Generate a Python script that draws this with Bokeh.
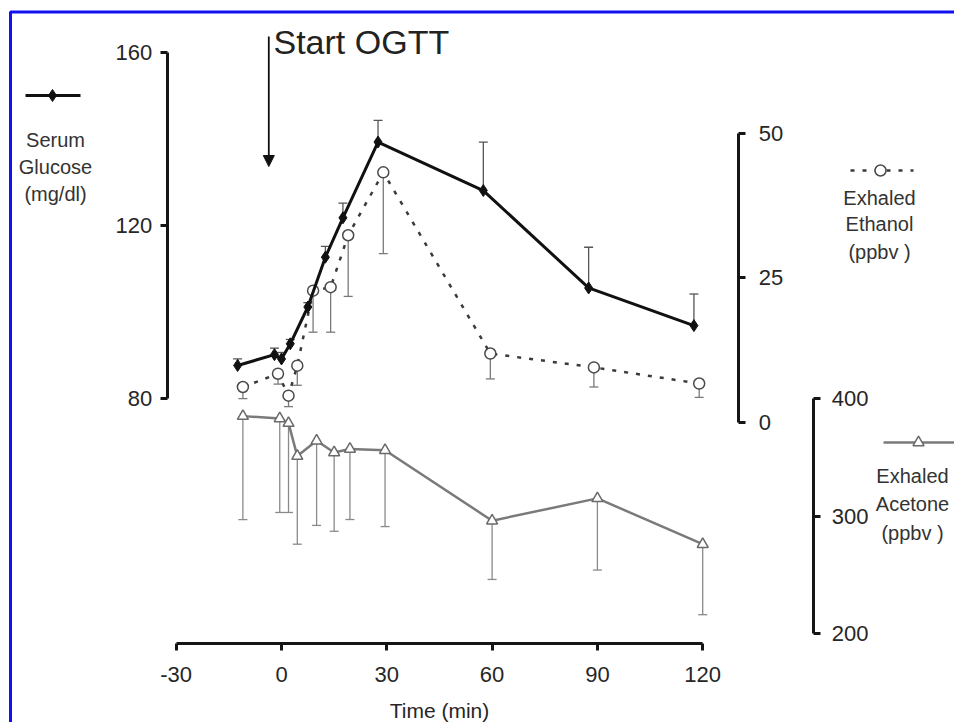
import numpy as np
from bokeh.plotting import figure
from bokeh.models import (LinearAxis, Range1d, FixedTicker, ColumnDataSource, Whisker,
                          TeeHead, Label, Arrow, NormalHead, BoxAnnotation)
from bokeh.embed import file_html
from bokeh.resources import INLINE

# ---------------- data ----------------
glucose_t = [-12.5, -2, 0, 2.5, 7.5, 12.5, 17.5, 27.5, 57.5, 87.5, 117.5]
glucose = [87.7, 90.2, 89.2, 92.7, 101.2, 112.7, 121.8, 139.3, 128.1, 105.6, 96.9]
glucose_err = [1.5, 1.5, 1.5, 1.0, 1.0, 2.5, 3.4, 5.0, 11.2, 9.4, 7.3]

ethanol_t = [-11, -1, 2, 4.5, 9, 14, 19, 29, 59.5, 89, 119]
ethanol = [6.1, 8.4, 4.6, 9.8, 22.8, 23.4, 32.4, 43.3, 11.9, 9.5, 6.7]
ethanol_err = [2.0, 1.8, 1.9, 3.4, 7.2, 7.8, 10.6, 14.1, 4.4, 3.4, 2.4]

acetone_t = [-11, -0.5, 2, 4.5, 10, 15, 19.5, 29.5, 60, 90, 120]
acetone = [385, 383, 379, 351, 364, 354, 357, 356, 296, 315, 276]
acetone_err = [88, 80, 76, 75, 72, 67, 60, 65, 50, 61, 60]

time_ticks = [-30, 0, 30, 60, 90, 120]
time_labels = ["-30", "0", "30", "60", "90", "120"]
glucose_ticks = [80, 120, 160]
ethanol_ticks = [0, 25, 50]
acetone_ticks = [200, 300, 400]

# ---------------- layout geometry (page pixels) ----------------
W, H = 954, 722
OX, OY = 0, 0
T0_PX, PX_PER_MIN = 281.0, 3.51
G80_PY, PX_PER_G = 398.3, 4.33
E0_PY, PX_PER_E = 421.7, 5.77
A200_PY, PX_PER_A = 633.0, 1.175


def tx(px):
    return (px - T0_PX) / PX_PER_MIN


def gy(py):
    return 80 + (G80_PY - py) / PX_PER_G


def ey(py):
    return (E0_PY - py) / PX_PER_E


def ay(py):
    return 200 + (A200_PY - py) / PX_PER_A


FONT = "Liberation Sans"

p = figure(width=W, height=H,
           x_range=Range1d(tx(OX), tx(OX + W)),
           y_range=Range1d(gy(OY + H), gy(OY)),
           x_axis_type=None, y_axis_type=None,
           min_border=0, toolbar_location=None, output_backend="svg",
           background_fill_color="white", border_fill_color="white")
p.outline_line_color = None
p.extra_y_ranges = {"eth": Range1d(ey(OY + H), ey(OY)),
                    "ace": Range1d(ay(OY + H), ay(OY))}


def style_axis(ax, standoff):
    ax.axis_line_width = 3
    ax.axis_line_color = "#151515"
    ax.major_tick_line_width = 3
    ax.major_tick_line_color = "#151515"
    ax.major_tick_in = 0
    ax.major_tick_out = 7
    ax.minor_tick_in = 0
    ax.minor_tick_out = 0
    ax.major_label_text_font = FONT
    ax.major_label_text_font_size = "22px"
    ax.major_label_text_color = "#262626"
    ax.major_label_standoff = standoff


# bottom time axis
xaxis = LinearAxis(fixed_location=gy(643), bounds=(time_ticks[0], time_ticks[-1]),
                   ticker=FixedTicker(ticks=time_ticks), axis_label="Time (min)")
style_axis(xaxis, 16)
xaxis.major_label_overrides = {t: lab for t, lab in zip(time_ticks, time_labels)}
xaxis.axis_label_text_font = FONT
xaxis.axis_label_text_font_size = "21px"
xaxis.axis_label_text_font_style = "normal"
xaxis.axis_label_text_color = "#262626"
xaxis.axis_label_standoff = 14
p.add_layout(xaxis, "below")

# glucose axis (left)
gaxis = LinearAxis(fixed_location=tx(166.7), bounds=(glucose_ticks[0], glucose_ticks[-1]),
                   ticker=FixedTicker(ticks=glucose_ticks))
style_axis(gaxis, 8)
p.add_layout(gaxis, "left")

# ethanol axis
eaxis = LinearAxis(y_range_name="eth", fixed_location=tx(738.3),
                   bounds=(ethanol_ticks[0], ethanol_ticks[-1]),
                   ticker=FixedTicker(ticks=ethanol_ticks))
style_axis(eaxis, 13)
p.add_layout(eaxis, "right")

# acetone axis
aaxis = LinearAxis(y_range_name="ace", fixed_location=tx(813.3),
                   bounds=(acetone_ticks[0], acetone_ticks[-1]),
                   ticker=FixedTicker(ticks=acetone_ticks))
style_axis(aaxis, 11)
p.add_layout(aaxis, "right")

# ---------------- series ----------------
g = np.array(glucose); ge = np.array(glucose_err)
e = np.array(ethanol); ee = np.array(ethanol_err)
a = np.array(acetone); ae = np.array(acetone_err)

# acetone
asrc = ColumnDataSource(dict(t=acetone_t, v=a, lo=a - ae, hi=a))
p.add_layout(Whisker(source=asrc, base="t", lower="lo", upper="hi", dimension="height",
                     y_range_name="ace", line_color="#8a8a8a", line_width=1.3,
                     lower_head=TeeHead(size=9, line_color="#8a8a8a", line_width=1.3),
                     upper_head=None))
p.line("t", "v", source=asrc, y_range_name="ace", line_color="#7a7a7a", line_width=2.5)
p.scatter("t", "v", source=asrc, y_range_name="ace", marker="triangle", size=11,
          fill_color="white", line_color="#6a6a6a", line_width=1.5)

# ethanol
esrc = ColumnDataSource(dict(t=ethanol_t, v=e, lo=e - ee, hi=e))
p.add_layout(Whisker(source=esrc, base="t", lower="lo", upper="hi", dimension="height",
                     y_range_name="eth", line_color="#7a7a7a", line_width=1.3,
                     lower_head=TeeHead(size=9, line_color="#7a7a7a", line_width=1.3),
                     upper_head=None))
p.line("t", "v", source=esrc, y_range_name="eth", line_color="#3a3a3a", line_width=2.5,
       line_dash="4 8")
p.scatter("t", "v", source=esrc, y_range_name="eth", marker="circle", size=11,
          fill_color="white", line_color="#4a4a4a", line_width=1.5)

# glucose
gsrc = ColumnDataSource(dict(t=glucose_t, v=g, lo=g, hi=g + ge))
p.add_layout(Whisker(source=gsrc, base="t", lower="lo", upper="hi", dimension="height",
                     line_color="#555555", line_width=1.3, lower_head=None,
                     upper_head=TeeHead(size=9, line_color="#555555", line_width=1.3)))
p.line("t", "v", source=gsrc, line_color="#111111", line_width=3)
p.scatter("t", "v", source=gsrc, marker="diamond", size=12,
          fill_color="#111111", line_color="#111111")

# ---------------- annotations / legends ----------------
p.add_layout(BoxAnnotation(left=tx(10), top=gy(11.5), right=tx(3000), bottom=gy(3000),
                           fill_color=None, fill_alpha=0, line_color="#1010f0",
                           line_alpha=1.0, line_width=3))

p.add_layout(Label(x=tx(273), y=gy(41.5), text="Start OGTT", text_font=FONT,
                   text_font_size="34px", text_color="#222222",
                   text_baseline="alphabetic", text_align="left"))
p.add_layout(Arrow(x_start=tx(268.3), y_start=gy(36), x_end=tx(268.3), y_end=gy(166),
                   line_color="#111111", line_width=1.8,
                   end=NormalHead(size=11, fill_color="#111111", line_color="#111111")))


def legend_text(lines, cx, ys):
    for txt, yy in zip(lines, ys):
        p.add_layout(Label(x=tx(cx), y=gy(yy), text=txt, text_font=FONT,
                           text_font_size="20px", text_color="#333333",
                           text_align="center", text_baseline="middle"))


# glucose legend
p.line([tx(25), tx(80)], [gy(95), gy(95)], line_color="#111111", line_width=3)
p.scatter([tx(52)], [gy(95)], marker="diamond", size=12, fill_color="#111111",
          line_color="#111111")
legend_text(["Serum", "Glucose", "(mg/dl)"], 55, [139, 166, 193])

# ethanol legend
p.line([tx(850), tx(913)], [gy(170), gy(170)], line_color="#3a3a3a", line_width=2.5,
       line_dash="4 8")
p.scatter([tx(880)], [gy(170)], marker="circle", size=11, fill_color="white",
          line_color="#4a4a4a", line_width=1.5)
legend_text(["Exhaled", "Ethanol", "(ppbv )"], 879, [197, 223, 251])

# acetone legend
p.line([tx(883), tx(967)], [gy(442), gy(442)], line_color="#7a7a7a", line_width=2.5)
p.scatter([tx(918)], [gy(442)], marker="triangle", size=11, fill_color="white",
          line_color="#6a6a6a", line_width=1.5)
legend_text(["Exhaled", "Acetone", "(ppbv )"], 912, [475, 503, 532])

open("out.html", "w").write(file_html(p, INLINE))
